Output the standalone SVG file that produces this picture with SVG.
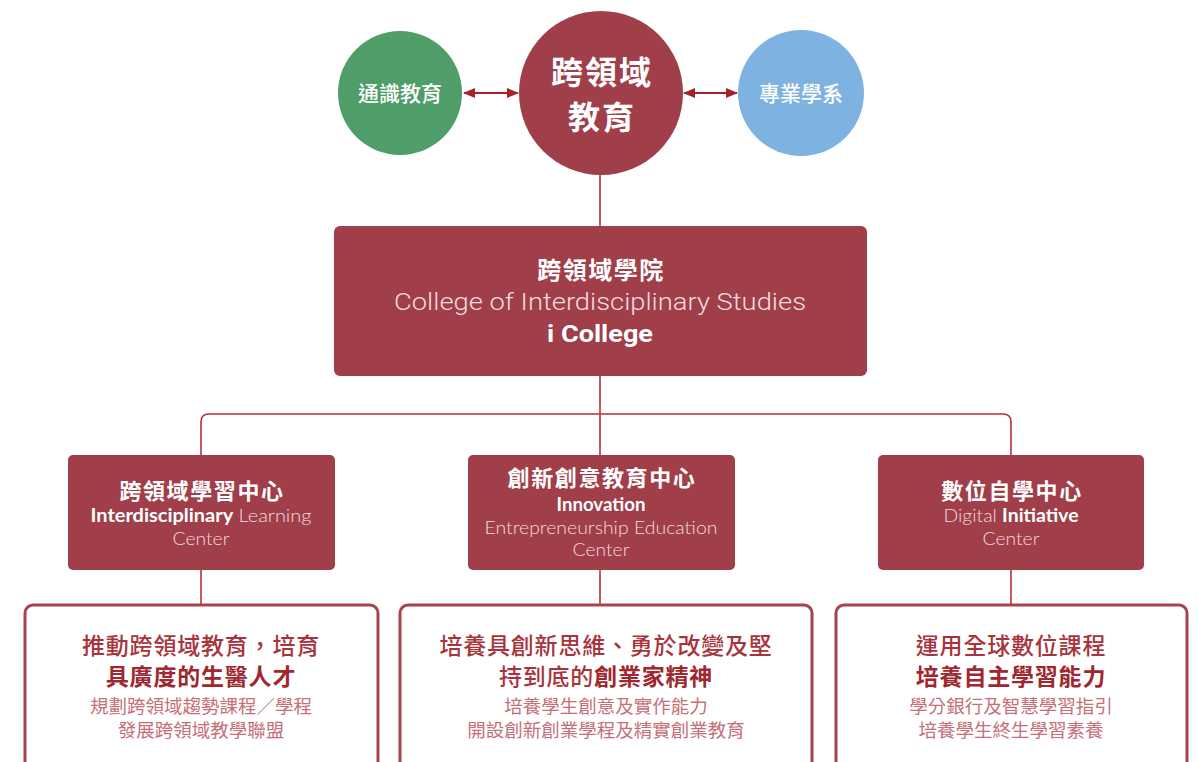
<svg xmlns="http://www.w3.org/2000/svg" width="1198" height="762" viewBox="0 0 1198 762">
<defs>
<marker id="ah" viewBox="0 0 12 10" refX="11" refY="5" markerWidth="12" markerHeight="10" markerUnits="userSpaceOnUse" orient="auto-start-reverse">
<path d="M0,0 L12,5 L0,10 Z" fill="#a3222b"/>
</marker>
<style>
.cjk{font-family:"Noto Sans CJK TC","Noto Sans CJK SC",sans-serif;text-anchor:middle}
.en{font-family:"Lato","Open Sans","Liberation Sans",sans-serif;text-anchor:middle}
.din{font-family:"Roboto","Liberation Sans",sans-serif;text-anchor:middle}
.mid{fill:#a03e4a}
.box{fill:#fff;stroke:#a8434e;stroke-width:3}
.conn{fill:none;stroke:#b8303b;stroke-width:1.6}
.w{fill:#fff}
.lt{fill:#f1dcdf;font-weight:300}
.t1{fill:#a8333d;font-size:23px;font-weight:500;letter-spacing:0.8px}
.t2{fill:#a0262f;font-size:23px;font-weight:700;letter-spacing:0.8px}
.t3{fill:#c56f78;font-size:18.5px;font-weight:400}
.ct{font-size:22px;font-weight:700;letter-spacing:1.6px}
.big{font-size:32px;font-weight:700;letter-spacing:2px}
</style>
</defs>
<rect width="1198" height="762" fill="#fff"/>

<g id="connectors">
<line class="conn" x1="600" y1="170" x2="600" y2="227"/>
<line class="conn" x1="600" y1="375" x2="600" y2="456"/>
<path class="conn" d="M201,456 V422 Q201,414 209,414 H1003 Q1011,414 1011,422 V456"/>
<line class="conn" x1="201" y1="569" x2="201" y2="605"/>
<line class="conn" x1="600" y1="569" x2="600" y2="605"/>
<line class="conn" x1="1011" y1="569" x2="1011" y2="605"/>
<line x1="464" y1="93" x2="518" y2="93" stroke="#a3222b" stroke-width="2" marker-start="url(#ah)" marker-end="url(#ah)"/>
<line x1="684" y1="93" x2="737" y2="93" stroke="#a3222b" stroke-width="2" marker-start="url(#ah)" marker-end="url(#ah)"/>
</g>

<g id="general-education">
<circle cx="400" cy="93" r="62" fill="#4f9d69"/>
<text class="cjk w" x="400" y="101" font-size="21" font-weight="500">通識教育</text>
</g>

<g id="interdisciplinary-education">
<circle cx="601" cy="93" r="82" fill="#a03e4a"/>
<text class="cjk w big" x="602" y="84">跨領域</text>
<text class="cjk w big" x="602" y="129">教育</text>
</g>

<g id="departments">
<circle cx="801" cy="93" r="63" fill="#7eb2e0"/>
<text class="cjk w" x="801" y="101" font-size="21" font-weight="500">專業學系</text>
</g>

<g id="college">
<rect class="mid" x="334" y="226" width="533" height="150" rx="6"/>
<text class="cjk w" x="601" y="279" font-size="24" font-weight="700" letter-spacing="1.5">跨領域學院</text>
<text class="din lt" x="600" y="310" font-size="24" textLength="412" lengthAdjust="spacingAndGlyphs">College of Interdisciplinary Studies</text>
<text class="din w" x="600" y="342" font-size="24" font-weight="700" textLength="106" lengthAdjust="spacingAndGlyphs">i College</text>
</g>

<g id="learning-center">
<rect class="mid" x="68" y="455" width="267" height="115" rx="5"/>
<text class="cjk w ct" x="202" y="499">跨領域學習中心</text>
<text class="en" x="201" y="522" font-size="18.5" textLength="221" lengthAdjust="spacingAndGlyphs"><tspan class="w" font-weight="700">Interdisciplinary</tspan><tspan class="lt"> Learning</tspan></text>
<text class="en lt" x="201" y="545" font-size="18.5" textLength="57" lengthAdjust="spacingAndGlyphs">Center</text>
</g>

<g id="innovation-center">
<rect class="mid" x="468" y="455" width="267" height="115" rx="5"/>
<text class="cjk w ct" x="602" y="486">創新創意教育中心</text>
<text class="en w" x="601" y="511" font-size="18.5" font-weight="700" textLength="89" lengthAdjust="spacingAndGlyphs">Innovation</text>
<text class="en lt" x="601" y="534" font-size="18.5" textLength="233" lengthAdjust="spacingAndGlyphs">Entrepreneurship Education</text>
<text class="en lt" x="601" y="556" font-size="18.5" textLength="57" lengthAdjust="spacingAndGlyphs">Center</text>
</g>

<g id="digital-center">
<rect class="mid" x="878" y="455" width="266" height="115" rx="5"/>
<text class="cjk w ct" x="1012" y="499">數位自學中心</text>
<text class="en" x="1011" y="522" font-size="18.5" textLength="135" lengthAdjust="spacingAndGlyphs"><tspan class="lt">Digital </tspan><tspan class="w" font-weight="700">Initiative</tspan></text>
<text class="en lt" x="1011" y="545" font-size="18.5" textLength="57" lengthAdjust="spacingAndGlyphs">Center</text>
</g>

<g id="goal-left">
<rect class="box" x="25" y="605" width="353" height="200" rx="8"/>
<text class="cjk t1" x="201" y="654">推動跨領域教育，培育</text>
<text class="cjk t2" x="201" y="685">具廣度的生醫人才</text>
<text class="cjk t3" x="201" y="713">規劃跨領域趨勢課程／學程</text>
<text class="cjk t3" x="201" y="737">發展跨領域教學聯盟</text>
</g>

<g id="goal-middle">
<rect class="box" x="400" y="605" width="412" height="200" rx="8"/>
<text class="cjk t1" x="606" y="654">培養具創新思維、勇於改變及堅</text>
<text class="cjk t1" x="606" y="685">持到底的<tspan font-weight="700" fill="#a0262f">創業家精神</tspan></text>
<text class="cjk t3" x="606" y="713">培養學生創意及實作能力</text>
<text class="cjk t3" x="606" y="737">開設創新創業學程及精實創業教育</text>
</g>

<g id="goal-right">
<rect class="box" x="836" y="605" width="351" height="200" rx="8"/>
<text class="cjk t1" x="1011" y="654">運用全球數位課程</text>
<text class="cjk t2" x="1011" y="685">培養自主學習能力</text>
<text class="cjk t3" x="1011" y="713">學分銀行及智慧學習指引</text>
<text class="cjk t3" x="1011" y="737">培養學生終生學習素養</text>
</g>
</svg>
